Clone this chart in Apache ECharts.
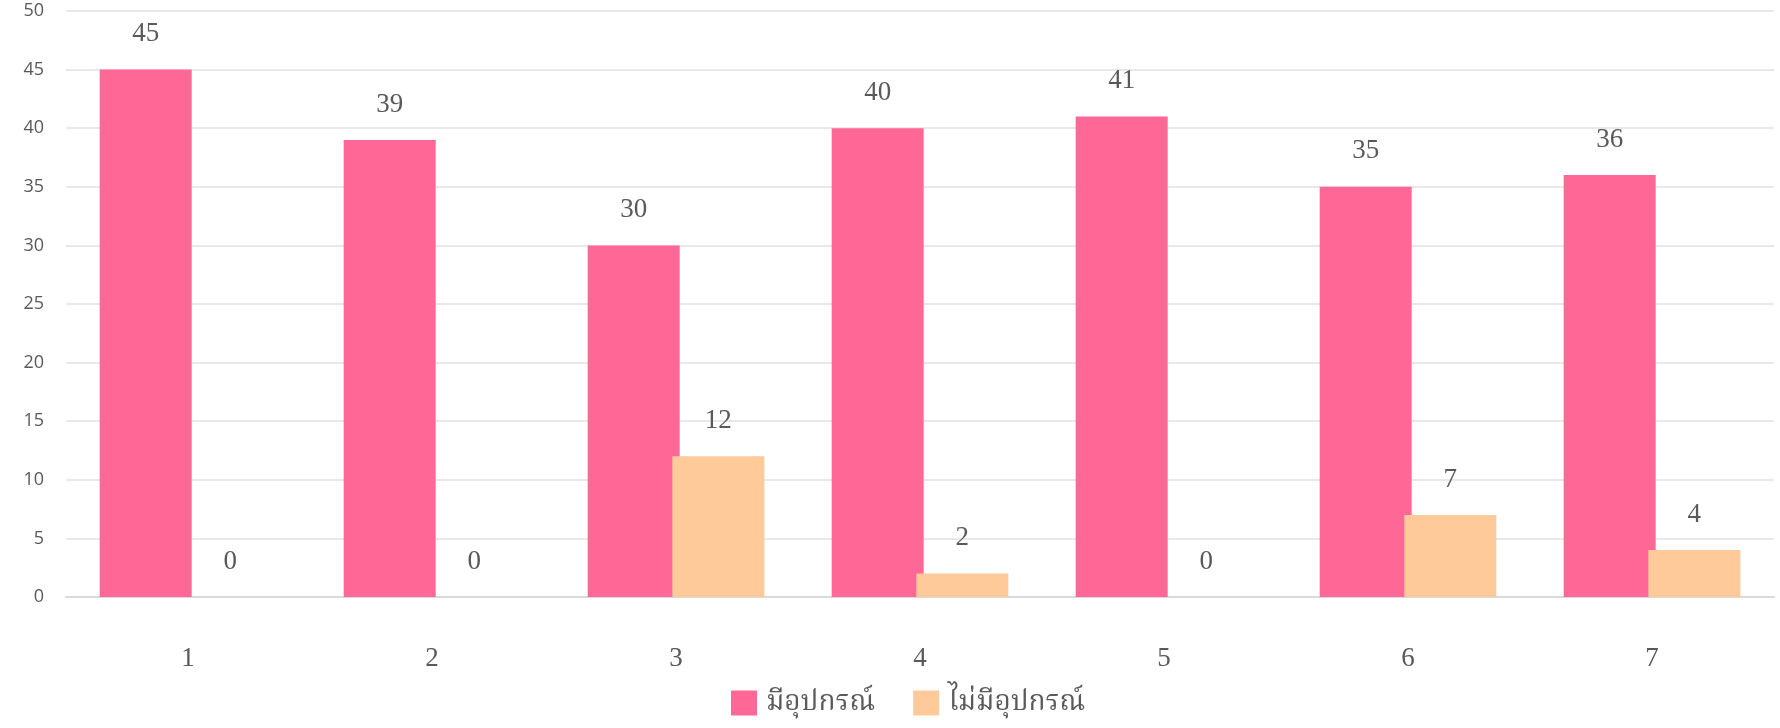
<!DOCTYPE html>
<html>
<head>
<meta charset="utf-8">
<script src="https://cdn.jsdelivr.net/npm/echarts@6/dist/echarts.min.js"></script>
<style>html,body{margin:0;padding:0;background:#fff;}#c{width:1780px;height:728px;}</style>
</head>
<body>
<div id="c"></div>
<script>
const categories = ['1','2','3','4','5','6','7'];
const seriesNames = ['มีอุปกรณ์','ไม่มีอุปกรณ์'];
const withDevice = [45, 39, 30, 40, 41, 35, 36];
const withoutDevice = [0, 0, 12, 2, 0, 7, 4];

const serif = "'Liberation Serif','Noto Serif Thai','Noto Sans Thai','DejaVu Serif',serif";
const chart = echarts.init(document.getElementById('c'));
const labelCfg = {show:true, position:'top', distance:22, color:'#595959', fontFamily:serif, fontSize:27};
chart.setOption({
  animation:false,
  grid:{left:66,right:6,top:11,bottom:131,containLabel:false},
  legend:{
    bottom:6, left:726, itemWidth:26, itemHeight:25, itemGap:38,
    icon:'rect',
    textStyle:{fontFamily:serif,fontSize:28,color:'#595959',padding:[0,0,0,4]},
    data:seriesNames
  },
  xAxis:{
    type:'category', data:categories,
    axisLine:{lineStyle:{color:'#d9d9d9',width:2}},
    axisTick:{show:false},
    axisLabel:{color:'#595959',fontFamily:serif,fontSize:27,margin:48}
  },
  yAxis:{
    type:'value', min:0, max:50, interval:5,
    axisLine:{show:false}, axisTick:{show:false},
    splitLine:{lineStyle:{color:'#e0e0e0',width:1.5}},
    axisLabel:{color:'#595959',fontFamily:"'Open Sans','Lato',sans-serif",fontSize:18,margin:22}
  },
  series:[
    {name:seriesNames[0], type:'bar', data:withDevice, barWidth:92, barGap:'-8%',
     itemStyle:{color:'#FF6797'}, label:labelCfg},
    {name:seriesNames[1], type:'bar', data:withoutDevice, barWidth:92,
     itemStyle:{color:'#FFCA99'}, label:labelCfg}
  ]
});
</script>
</body>
</html>
